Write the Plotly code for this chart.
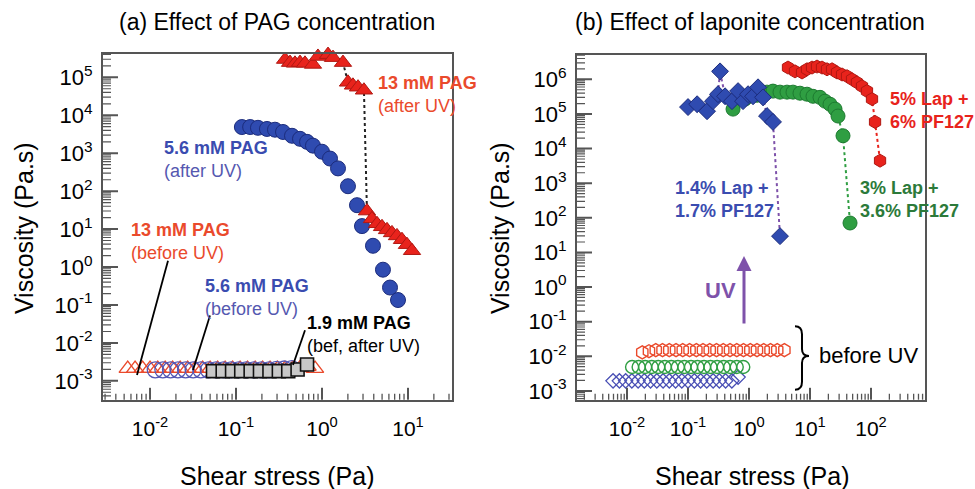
import math
import plotly.graph_objects as go

W, H = 975, 489
FONT = "Liberation Sans, Arial, Helvetica, sans-serif"

# ---------------- panel (a): effect of PAG concentration ----------------
pag13_after_x = [0.372, 0.425, 0.485, 0.555, 0.634, 0.785, 0.897, 1.028, 1.175, 1.343, 1.754, 2.005, 2.291,
                 2.624, 3.076, 3.334, 3.811, 4.365, 4.989, 5.702, 6.516, 7.447, 8.511, 9.727, 11.14]
pag13_after_y = [2.95e5, 2.45e5, 2.34e5, 2.45e5, 2.34e5, 2.19e5, 3.55e5, 4.47e5, 3.98e5, 3.31e5, 2.45e5,
                 7.41e4, 6.17e4, 5.50e4, 4.57e4, 29.9, 18.6, 13.8, 11.5, 9.55, 7.94, 6.61, 5.25, 3.89, 2.69]

pag56_after_x = [0.117, 0.146, 0.180, 0.229, 0.284, 0.352, 0.448, 0.555, 0.670, 0.785, 1.0, 1.239, 1.535,
                 2.005, 2.553, 2.917, 3.917, 5.117, 6.18, 7.656]
pag56_after_y = [4898, 4898, 4677, 4365, 4169, 3631, 2884, 2399, 1995, 1585, 1096, 724, 398, 135, 42.7,
                 12.0, 3.63, 0.851, 0.288, 0.135]

pag13_before_x = [0.0055, 0.0067, 0.0082, 0.0100, 0.0123, 0.0150, 0.0183, 0.0224, 0.0274, 0.0335, 0.0409,
                  0.0500, 0.0611, 0.0747, 0.0913, 0.1116, 0.136, 0.167, 0.204, 0.249, 0.304, 0.372, 0.455,
                  0.556, 0.679, 0.830]
pag13_before_y = [0.0021, 0.0021, 0.0021, 0.0021, 0.0021, 0.0021, 0.0021, 0.0021, 0.0021, 0.0021, 0.0021,
                  0.0021, 0.0021, 0.0021, 0.0021, 0.0021, 0.0021, 0.0021, 0.0021, 0.0021, 0.0021, 0.0021,
                  0.0021, 0.0022, 0.0024, 0.0021]

pag56_before_x = [0.0115, 0.0141, 0.0173, 0.0211, 0.0259, 0.0317, 0.0389, 0.0476, 0.0583, 0.0715, 0.0876,
                  0.107, 0.131, 0.161, 0.197, 0.242, 0.296, 0.363, 0.445]
pag56_before_y = [0.00195, 0.00195, 0.00195, 0.00195, 0.00195, 0.00195, 0.00195, 0.00195, 0.00195, 0.00195,
                  0.00195, 0.00195, 0.00195, 0.00195, 0.00195, 0.00195, 0.00200, 0.00205, 0.00210]

pag19_x = [0.054, 0.070, 0.090, 0.115, 0.148, 0.190, 0.245, 0.315, 0.405, 0.520, 0.670]
pag19_y = [0.0018, 0.0018, 0.0018, 0.0018, 0.0018, 0.0018, 0.0018, 0.0018, 0.0018, 0.0020, 0.0027]

# ---------------- panel (b): effect of laponite concentration ----------------
lap14_after_x = [0.100, 0.141, 0.205, 0.257, 0.310, 0.335, 0.405, 0.526, 0.661, 0.798, 0.964, 1.164, 1.406,
                 1.698, 1.972, 2.472, 3.221]
lap14_after_y = [1.58e5, 1.91e5, 1.20e5, 2.34e5, 3.72e5, 1.70e6, 3.24e5, 2.34e5, 4.57e5, 2.34e5, 3.72e5,
                 3.24e5, 5.89e5, 3.02e5, 8.71e4, 5.89e4, 29.5]

lap3_after_x = [0.547, 0.859, 1.352, 1.972, 2.472, 3.221, 4.198, 5.26, 6.855, 8.93, 11.19, 14.59, 17.62,
                21.28, 25.70, 28.77, 34.75, 45.29]
lap3_after_y = [1.38e5, 2.69e5, 3.47e5, 4.27e5, 4.57e5, 4.27e5, 4.27e5, 4.27e5, 3.98e5, 3.72e5, 3.24e5,
                3.02e5, 2.34e5, 1.91e5, 1.38e5, 8.71e4, 2.34e4, 70.8]

lap5_after_x = [4.355, 5.675, 7.396, 8.93, 10.79, 13.03, 15.74, 19.01, 22.96, 27.73, 33.50, 40.46, 48.87,
                58.88, 71.12, 85.9, 103.8, 116.4, 140.6]
lap5_after_y = [2.19e6, 1.70e6, 1.58e6, 1.95e6, 2.19e6, 2.34e6, 2.19e6, 1.95e6, 1.95e6, 1.58e6, 1.38e6,
                1.23e6, 1.0e6, 8.13e5, 6.31e5, 4.57e5, 2.69e5, 5.89e4, 4.47e3]

lap5_before_x = [0.0178, 0.0229, 0.0296, 0.0382, 0.0493, 0.0636, 0.0820, 0.106, 0.137, 0.176, 0.227, 0.293,
                 0.378, 0.488, 0.630, 0.812, 1.05, 1.35, 1.74, 2.25, 2.90, 3.80]
lap5_before_y = [0.013, 0.014, 0.015, 0.015, 0.015, 0.015, 0.015, 0.015, 0.015, 0.015, 0.015, 0.015, 0.015,
                 0.015, 0.015, 0.015, 0.015, 0.015, 0.015, 0.015, 0.015, 0.015]

lap3_before_x = [0.0121, 0.0155, 0.0198, 0.0254, 0.0325, 0.0416, 0.0532, 0.0681, 0.0872, 0.112, 0.143,
                 0.183, 0.234, 0.300, 0.384, 0.491, 0.629, 0.805]
lap3_before_y = [0.0049, 0.0049, 0.0049, 0.0049, 0.0049, 0.0049, 0.0049, 0.0049, 0.0049, 0.0049, 0.0049,
                 0.0049, 0.0049, 0.0049, 0.0049, 0.0049, 0.0049, 0.0049]

lap14_before_x = [0.0059, 0.0075, 0.0095, 0.0120, 0.0152, 0.0192, 0.0243, 0.0308, 0.0390, 0.0493, 0.0625,
                  0.0791, 0.100, 0.127, 0.161, 0.203, 0.258, 0.326, 0.413, 0.523, 0.662]
lap14_before_y = [0.00195, 0.00195, 0.00195, 0.00195, 0.00195, 0.00195, 0.00195, 0.00195, 0.00195, 0.00195,
                  0.00195, 0.00195, 0.00195, 0.00195, 0.00195, 0.00195, 0.00195, 0.00195, 0.00195, 0.00195,
                  0.0025]

# ---------------- tick labels ----------------
xa_tickvals = [0.01, 0.1, 1, 10]
xa_ticktext = ["10<sup>-2</sup>", "10<sup>-1</sup>", "10<sup>0</sup>", "10<sup>1</sup>"]
ya_tickvals = [1e-3, 1e-2, 1e-1, 1, 10, 100, 1e3, 1e4, 1e5]
ya_ticktext = ["10<sup>-3</sup>", "10<sup>-2</sup>", "10<sup>-1</sup>", "10<sup>0</sup>", "10<sup>1</sup>",
               "10<sup>2</sup>", "10<sup>3</sup>", "10<sup>4</sup>", "10<sup>5</sup>"]
xb_tickvals = [0.01, 0.1, 1, 10, 100]
xb_ticktext = ["10<sup>-2</sup>", "10<sup>-1</sup>", "10<sup>0</sup>", "10<sup>1</sup>", "10<sup>2</sup>"]
yb_tickvals = [1e-3, 1e-2, 1e-1, 1, 10, 100, 1e3, 1e4, 1e5, 1e6]
yb_ticktext = ya_ticktext + ["10<sup>6</sup>"]

# ---------------- colours ----------------
RED = "#e8231c"
RED_EDGE = "#b01812"
RED_TXT = "#ea4a2c"
BLUE = "#2f4bb0"
BLUE_EDGE = "#1c2c7c"
BLUE_TXT = "#3a4cb0"
BLUE_TXT2 = "#5558b0"
GREEN = "#2f9e42"
GREEN_EDGE = "#1d7a30"
GREEN_TXT = "#2c7a3a"
PURPLE = "#7e52aa"
GRAY_SQ = "#c8c8c8"
AXIS = "#555555"


def px_x(x):
    return x / W


def px_y(y):
    return 1 - y / H


fig = go.Figure()

# panel (a) traces
fig.add_trace(go.Scatter(x=pag13_before_x, y=pag13_before_y, mode="markers", xaxis="x", yaxis="y",
                         marker=dict(symbol="triangle-up-open", size=15, color=RED_TXT, line=dict(width=1.4))))
fig.add_trace(go.Scatter(x=pag56_before_x, y=pag56_before_y, mode="markers", xaxis="x", yaxis="y",
                         marker=dict(symbol="circle-open", size=16, color="#5457b5", line=dict(width=1.3))))
fig.add_trace(go.Scatter(x=pag19_x, y=pag19_y, mode="markers", xaxis="x", yaxis="y",
                         marker=dict(symbol="square", size=13, color=GRAY_SQ, line=dict(width=1.6, color="#111"))))
fig.add_trace(go.Scatter(x=pag56_after_x, y=pag56_after_y, mode="markers", xaxis="x", yaxis="y",
                         marker=dict(symbol="circle", size=15, color=BLUE, line=dict(width=1, color=BLUE_EDGE))))
fig.add_trace(go.Scatter(x=pag13_after_x, y=pag13_after_y, mode="lines+markers", xaxis="x", yaxis="y",
                         cliponaxis=False,
                         line=dict(color="#222", width=2, dash="dot"),
                         marker=dict(symbol="triangle-up", size=15, color=RED, line=dict(width=1, color=RED_EDGE))))

# panel (b) traces
fig.add_trace(go.Scatter(x=lap14_before_x, y=lap14_before_y, mode="markers", xaxis="x2", yaxis="y2",
                         marker=dict(symbol="diamond-open", size=11, color="#4a50b5", line=dict(width=1.3))))
fig.add_trace(go.Scatter(x=lap3_before_x, y=lap3_before_y, mode="markers", xaxis="x2", yaxis="y2",
                         marker=dict(symbol="circle-open", size=13, color=GREEN, line=dict(width=1.4))))
fig.add_trace(go.Scatter(x=lap5_before_x, y=lap5_before_y, mode="markers", xaxis="x2", yaxis="y2",
                         marker=dict(symbol="hexagon-open", size=13, color=RED_TXT, line=dict(width=1.4))))
fig.add_trace(go.Scatter(x=lap5_after_x, y=lap5_after_y, mode="lines+markers", xaxis="x2", yaxis="y2",
                         line=dict(color=RED, width=2, dash="dot"),
                         marker=dict(symbol="hexagon", size=13, color=RED, line=dict(width=1, color=RED_EDGE))))
fig.add_trace(go.Scatter(x=lap3_after_x, y=lap3_after_y, mode="lines+markers", xaxis="x2", yaxis="y2",
                         line=dict(color=GREEN, width=2, dash="dot"),
                         marker=dict(symbol="circle", size=14, color=GREEN, line=dict(width=1, color=GREEN_EDGE))))
fig.add_trace(go.Scatter(x=lap14_after_x, y=lap14_after_y, mode="lines+markers", xaxis="x2", yaxis="y2",
                         line=dict(color=PURPLE, width=2, dash="dot"),
                         marker=dict(symbol="diamond", size=13, color=BLUE, line=dict(width=1, color=BLUE_EDGE))))


def log_axis(domain, rng, tickvals, ticktext, anchor, is_x):
    return dict(
        type="log", domain=domain, range=rng, anchor=anchor,
        tickmode="array", tickvals=tickvals, ticktext=ticktext,
        ticks="", showline=True, linecolor=AXIS, linewidth=2, mirror=True,
        showgrid=False, zeroline=False, ticklabelstandoff=9 if is_x else 4,
        tickfont=dict(family=FONT, size=22 if not is_x else 21, color="black"),
    )


AX = {
    "a": dict(xd=[103 / W, 452 / W], yd=[1 - 403 / H, 1 - 54 / H], xr=[-2.547, 1.512], yr=[-3.497, 5.627]),
    "b": dict(xd=[577 / W, 925 / W], yd=[1 - 403 / H, 1 - 55 / H], xr=[-2.820, 2.885], yr=[-3.255, 6.716]),
}

fig.update_layout(
    width=W, height=H, margin=dict(l=0, r=0, t=0, b=0),
    paper_bgcolor="white", plot_bgcolor="white", showlegend=False,
    font=dict(family=FONT, color="black"),
    xaxis=log_axis(AX["a"]["xd"], AX["a"]["xr"], xa_tickvals, xa_ticktext, "y", True),
    yaxis=log_axis(AX["a"]["yd"], AX["a"]["yr"], ya_tickvals, ya_ticktext, "x", False),
    xaxis2=log_axis(AX["b"]["xd"], AX["b"]["xr"], xb_tickvals, xb_ticktext, "y2", True),
    yaxis2=log_axis(AX["b"]["yd"], AX["b"]["yr"], yb_tickvals, yb_ticktext, "x2", False),
)

shapes = []


# tick marks drawn inside the frame (major every decade, minor at 2..9); shape coords in data units
def add_ticks(panel, xref, yref):
    a = AX[panel]
    wpx = (a["xd"][1] - a["xd"][0]) * W
    hpx = (a["yd"][1] - a["yd"][0]) * H
    for e in range(-4, 4):
        for m in range(1, 10):
            lv = e + math.log10(m)
            if a["xr"][0] < lv < a["xr"][1]:
                v = m * 10.0 ** e
                ln = 12 if m == 1 else 6
                shapes.append(dict(type="line", xref=xref, yref=yref + " domain", x0=v, x1=v, y0=0,
                                   y1=ln / hpx, line=dict(color=AXIS, width=2 if m == 1 else 1.3)))
    for e in range(-4, 7):
        for m in range(1, 10):
            lv = e + math.log10(m)
            if a["yr"][0] < lv < a["yr"][1]:
                v = m * 10.0 ** e
                ln = 15 if m == 1 else 8
                shapes.append(dict(type="line", xref=xref + " domain", yref=yref, x0=0, x1=ln / wpx,
                                   y0=v, y1=v, line=dict(color=AXIS, width=2 if m == 1 else 1.2)))


add_ticks("a", "x", "y")
add_ticks("b", "x2", "y2")

ann = []


def text(x, y, s, size=18, color="black", xanchor="left", yanchor="middle", align="left", angle=0):
    ann.append(dict(x=px_x(x), y=px_y(y), xref="paper", yref="paper", text=s, showarrow=False,
                    xanchor=xanchor, yanchor=yanchor, align=align, textangle=angle,
                    font=dict(family=FONT, size=size, color=color)))


# titles and axis titles
text(277, 22, "(a) Effect of PAG concentration", size=23, xanchor="center")
text(750, 22, "(b) Effect of laponite concentration", size=23, xanchor="center")
text(277, 480, "Shear stress (Pa)", size=25, xanchor="center")
text(752, 480, "Shear stress (Pa)", size=25, xanchor="center")
text(24, 230, "Viscosity (Pa.s)", size=25, xanchor="center", angle=-90)
text(500, 230, "Viscosity (Pa.s)", size=25, xanchor="center", angle=-90)

# panel (a) labels
text(376, 95, "<b>13 mM PAG</b><br>(after UV)", color=RED_TXT)
text(162, 161, "<b>5.6 mM PAG</b><br><span style='color:%s'>(after UV)</span>" % BLUE_TXT2, color=BLUE_TXT)
text(129, 243, "<b>13 mM PAG</b><br>(before UV)", color=RED_TXT)
text(203, 300, "<b>5.6 mM PAG</b><br><span style='color:%s'>(before UV)</span>" % BLUE_TXT2, color=BLUE_TXT)
text(305, 337, "<b>1.9 mM PAG</b><br>(bef, after UV)", color="black")

# panel (b) labels
text(888, 111, "<b>5% Lap +<br>6% PF127</b>", color=RED)
text(673, 201, "<b>1.4% Lap +<br>1.7% PF127</b>", color=BLUE_TXT)
text(858, 201, "<b>3% Lap +<br>3.6% PF127</b>", color=GREEN_TXT)
text(720, 293, "<b>UV</b>", size=22, color=PURPLE, xanchor="center")
text(817, 358, "before UV", size=22)

# UV arrow
ann.append(dict(x=px_x(744), y=px_y(258), xref="paper", yref="paper", text="", showarrow=True,
                ax=0, ay=69, arrowhead=2, arrowsize=1, arrowwidth=3, arrowcolor=PURPLE))

fig.update_layout(annotations=ann)

# leader lines
for (x0, y0, x1, y1) in [(168, 263, 137, 378), (210, 318, 193, 373), (305, 333, 293, 368)]:
    shapes.append(dict(type="line", xref="paper", yref="paper", x0=px_x(x0), y0=px_y(y0),
                       x1=px_x(x1), y1=px_y(y1), line=dict(color="black", width=1.8)))


def P(x, y):
    return f"{px_x(x):.5f},{px_y(y):.5f}"


brace = (f"M {P(795, 329)} Q {P(802, 329)} {P(802, 337)} L {P(802, 352)} Q {P(802, 359)} {P(809, 359)} "
         f"Q {P(802, 359)} {P(802, 366)} L {P(802, 385)} Q {P(802, 393)} {P(795, 393)}")
shapes.append(dict(type="path", xref="paper", yref="paper", path=brace, line=dict(color="black", width=2)))
fig.update_layout(shapes=shapes)

fig.write_html("out.html", config={"displayModeBar": False},
               post_script="document.body.style.margin='0px';document.body.style.overflow='hidden';")
